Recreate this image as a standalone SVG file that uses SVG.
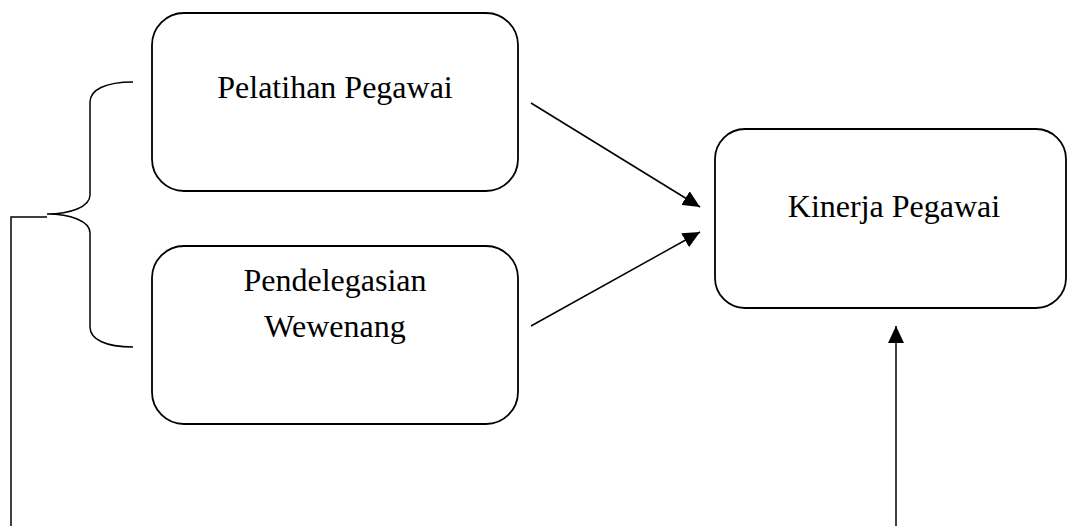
<svg xmlns="http://www.w3.org/2000/svg" width="1068" height="526" viewBox="0 0 1068 526">
<style>
.box{fill:#fff;stroke:#000;stroke-width:1.8}
.lbl{font-family:"Liberation Serif","Times New Roman",serif;font-size:32px;fill:#000;text-anchor:middle}
.ln{fill:none;stroke:#000;stroke-width:1.5}
</style>
<defs>
<marker id="ah" markerWidth="18" markerHeight="16" refX="17" refY="8" orient="auto" markerUnits="userSpaceOnUse">
<path d="M0,0 L17,8 L0,16 Z" fill="#000"/>
</marker>
</defs>
<rect width="1068" height="526" fill="#fff"/>
<g id="node-pelatihan">
<rect class="box" x="152" y="13" width="366" height="178" rx="32"/>
<text class="lbl" x="335" y="98">Pelatihan Pegawai</text>
</g>
<g id="node-pendelegasian">
<rect class="box" x="152" y="246" width="366" height="178" rx="32"/>
<text class="lbl" x="335" y="291">Pendelegasian</text>
<text class="lbl" x="335" y="337">Wewenang</text>
</g>
<g id="node-kinerja">
<rect class="box" x="715" y="129" width="351" height="179" rx="30"/>
<text class="lbl" x="894" y="217">Kinerja Pegawai</text>
</g>
<g id="connectors">
<path class="ln" d="M133,82 C105,82 90,90 90,102 L90,195 C90,207 70,214 47,214 C70,214 90,221 90,233 L90,327 C90,339 105,347 133,347"/>
<path class="ln" d="M11,526 L11,217 L47,217"/>
<line class="ln" x1="531" y1="103" x2="700" y2="207" marker-end="url(#ah)"/>
<line class="ln" x1="531" y1="326" x2="700" y2="232" marker-end="url(#ah)"/>
<line class="ln" x1="896" y1="526" x2="896" y2="326" marker-end="url(#ah)"/>
</g>
</svg>
